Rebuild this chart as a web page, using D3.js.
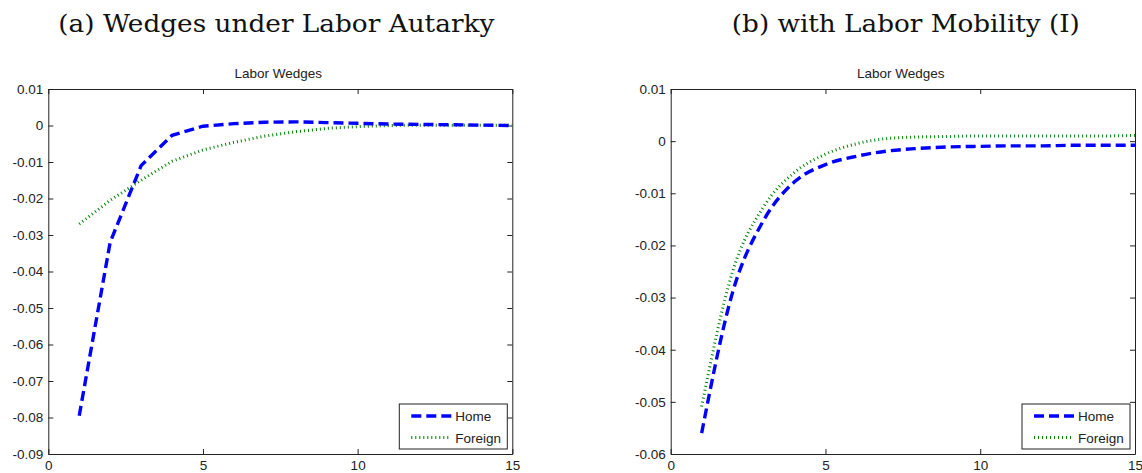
<!DOCTYPE html>
<html>
<head>
<meta charset="utf-8">
<script src="https://cdn.jsdelivr.net/npm/d3@7"></script>
<style>
  body { margin: 0; background: #fff; }
  svg { display: block; }
  .tick text { font-family: "Liberation Sans", Arial, sans-serif; font-size: 13.5px; fill: #222; }
  .axis path, .axis line { stroke: #222; }
</style>
</head>
<body>
<script>
// ---------------- DATA ----------------
const periods = [1, 2, 3, 4, 5, 6, 7, 8, 9, 10, 11, 12, 13, 14, 15];
const xTicks = [0, 5, 10, 15];

const homeA = [-0.0795, -0.032, -0.011, -0.0027, -0.0002, 0.0005, 0.0009, 0.001, 0.0008, 0.0006, 0.0004, 0.0003, 0.0002, 0.0001, 0.0];
const foreignA = [-0.027, -0.0205, -0.015, -0.0098, -0.0067, -0.0046, -0.0029, -0.0017, -0.0008, -0.0003, 0.0, 0.0001, 0.0001, 0.0001, 0.0001];
const yTicksA = [0.01, 0, -0.01, -0.02, -0.03, -0.04, -0.05, -0.06, -0.07, -0.08, -0.09];

const homeB = [-0.056, -0.029, -0.0152, -0.0078, -0.0045, -0.0029, -0.0019, -0.0014, -0.0011, -0.001, -0.0009, -0.0009, -0.0008, -0.0008, -0.0008];
const foreignB = [-0.0509, -0.025, -0.0126, -0.006, -0.0025, -0.0005, 0.0005, 0.0008, 0.0009, 0.001, 0.001, 0.001, 0.001, 0.001, 0.0011];
const yTicksB = [0.01, 0, -0.01, -0.02, -0.03, -0.04, -0.05, -0.06];

const panelTitles = ["(a) Wedges under Labor Autarky", "(b) with Labor Mobility (I)"];
const plotTitle = "Labor Wedges";
const seriesNames = ["Home", "Foreign"];

// ---------------- SVG ----------------
const width = 1142;
const height = 473;
const svg = d3.select("body").append("svg")
  .attr("width", width)
  .attr("height", height);

const panels = [
  { left: 48.3, top: 89, w: 464, h: 365, home: homeA, foreign: foreignA, yTicks: yTicksA, title: panelTitles[0], titleW: 436, titleShift: -4, curve: d3.curveLinear },
  { left: 670.7, top: 89, w: 464.3, h: 365, home: homeB, foreign: foreignB, yTicks: yTicksB, title: panelTitles[1], titleW: 348, titleShift: 3, curve: d3.curveMonotoneX }
];

const fmt = d => d === 0 ? "0" : String(+d.toFixed(2));

const homeStyle = { color: "#0000ff", w: 3.4, dash: "10,5" };
const foreignStyle = { color: "#008000", w: 3, dash: "1,3" };

panels.forEach(function (p) {
  const g = svg.append("g").attr("transform", "translate(" + p.left + "," + p.top + ")");

  const x = d3.scaleLinear().domain([0, 15]).range([0, p.w]);
  const y = d3.scaleLinear().domain(d3.extent(p.yTicks)).range([p.h, 0]);

  // big serif heading
  svg.append("text")
    .attr("x", p.left + p.w / 2 + p.titleShift)
    .attr("y", 32)
    .attr("text-anchor", "middle")
    .attr("textLength", p.titleW)
    .attr("lengthAdjust", "spacingAndGlyphs")
    .style("font-family", "'DejaVu Serif', 'Liberation Serif', serif")
    .style("font-size", "25px")
    .style("fill", "#111")
    .text(p.title);

  // small axes title
  g.append("text")
    .attr("x", p.w / 2 - 2)
    .attr("y", -11)
    .attr("text-anchor", "middle")
    .style("font-family", "'Liberation Sans', Arial, sans-serif")
    .style("font-size", "13.5px")
    .style("fill", "#222")
    .text(plotTitle);

  // axes with inward ticks
  g.append("g").attr("class", "axis")
    .attr("transform", "translate(0," + p.h + ")")
    .call(d3.axisBottom(x).tickValues(xTicks).tickSizeInner(-5).tickSizeOuter(0).tickPadding(6).tickFormat(d3.format("d")));
  g.append("g").attr("class", "axis")
    .call(d3.axisTop(x).tickValues(xTicks).tickSizeInner(-5).tickSizeOuter(0).tickFormat(""));
  g.append("g").attr("class", "axis")
    .call(d3.axisLeft(y).tickValues(p.yTicks).tickSizeInner(-5).tickSizeOuter(0).tickPadding(5).tickFormat(fmt));
  g.append("g").attr("class", "axis")
    .attr("transform", "translate(" + p.w + ",0)")
    .call(d3.axisRight(y).tickValues(p.yTicks).tickSizeInner(-5).tickSizeOuter(0).tickFormat(""));

  // lines
  const line = d3.line()
    .x((d, i) => x(periods[i]))
    .y(d => y(d))
    .curve(p.curve);

  g.append("path")
    .datum(p.foreign)
    .attr("d", line)
    .attr("fill", "none")
    .attr("stroke", foreignStyle.color)
    .attr("stroke-width", foreignStyle.w)
    .attr("stroke-dasharray", foreignStyle.dash);

  g.append("path")
    .datum(p.home)
    .attr("d", line)
    .attr("fill", "none")
    .attr("stroke", homeStyle.color)
    .attr("stroke-width", homeStyle.w)
    .attr("stroke-dasharray", homeStyle.dash);

  // legend
  const lg = g.append("g").attr("transform", "translate(" + (p.w - 113) + "," + (p.h - 50) + ")");
  lg.append("rect")
    .attr("width", 108).attr("height", 45)
    .attr("fill", "#fff").attr("stroke", "#222").attr("stroke-width", 1);
  [homeStyle, foreignStyle].forEach(function (s, i) {
    const ly = 12 + i * 21.5;
    lg.append("line")
      .attr("x1", 12).attr("x2", 52).attr("y1", ly).attr("y2", ly)
      .attr("stroke", s.color)
      .attr("stroke-width", s.w)
      .attr("stroke-dasharray", s.dash);
    lg.append("text")
      .attr("x", 56).attr("y", ly + 5)
      .style("font-family", "'Liberation Sans', Arial, sans-serif")
      .style("font-size", "13.5px")
      .style("fill", "#222")
      .text(seriesNames[i]);
  });
});
</script>
</body>
</html>
